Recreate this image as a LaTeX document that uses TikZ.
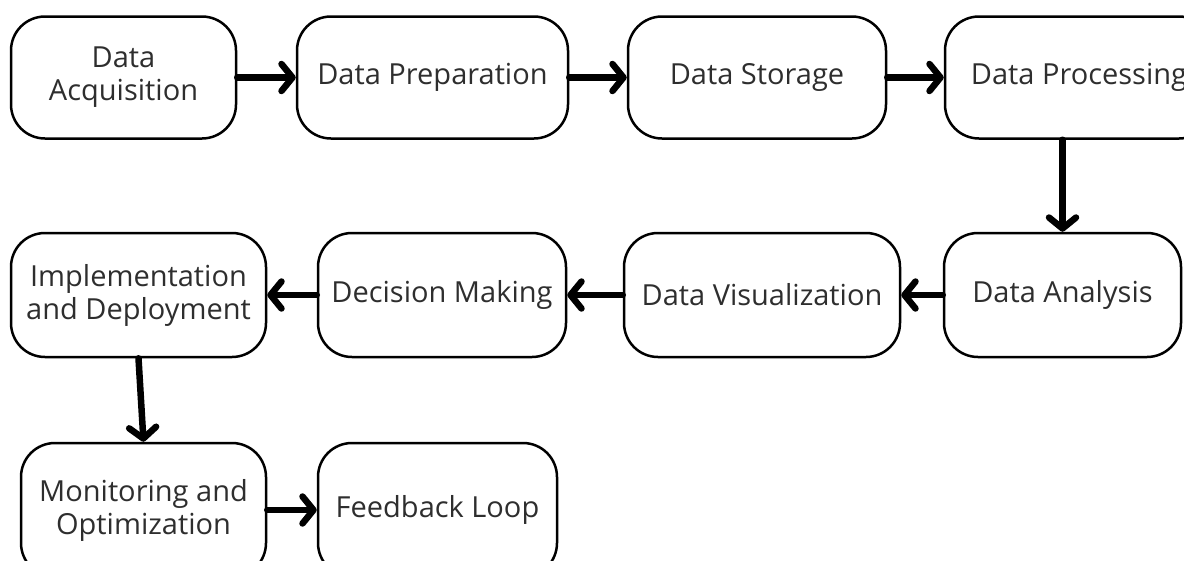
\documentclass[tikz,border=0pt]{standalone}
\usepackage{fontspec}
\setmainfont{Open Sans}
\usetikzlibrary{positioning,arrows.meta}

\tikzset{
  stage/.style={draw, line width=2.5pt, rounded corners=34pt, minimum height=122pt,
    align=center, inner sep=0pt, text=black!82, font=\fontsize{29}{33}\selectfont},
  flow/.style={line width=6.5pt, line cap=round, -{Straight Barb[length=11pt,width=27pt,round]}},
}

\begin{document}
\begin{tikzpicture}[x=1pt,y=-1pt]
\useasboundingbox (0,0) rectangle (1184,560);

          % first row
          \node[stage, minimum width=225pt] (acq) at (123.5,77.5) {Data\\Acquisition};
          \node[stage, minimum width=271pt] (prep) [right=58.5pt of acq] {Data Preparation};
          \node[stage, minimum width=258pt] (stor) [right=57.5pt of prep] {Data Storage};
          \node[stage, minimum width=268pt] (proc) [right=56.5pt of stor] {Data Processing};

          % second row
          \node[stage, minimum width=237pt, minimum height=124pt] (anal) at (1062.5,295) {Data Analysis};
          \node[stage, minimum width=276pt, minimum height=124pt] (vis) [left=41.5pt of anal] {Data Visualization};
          \node[stage, minimum width=248pt, minimum height=124pt] (dec) [left=55.5pt of vis] {Decision Making};
          \node[stage, minimum width=255pt, minimum height=124pt] (impl) [left=49.5pt of dec] {Implementation\\and Deployment};

          % third row
          \node[stage, minimum width=245pt, minimum height=134pt] (mon) at (143.5,510) {Monitoring and\\Optimization};
          \node[stage, minimum width=239pt, minimum height=134pt] (feed) [right=49.5pt of mon] {Feedback Loop};

		  \draw[flow] (acq) -- (prep);
		  \draw[flow] (prep) -- (stor);
		  \draw[flow] (stor) -- (proc);
		  \draw[flow] (anal.north |- proc.south) -- (anal.north);
		  \draw[flow] (anal) -- (vis);
		  \draw[flow] (vis) -- (dec);
		  \draw[flow] (dec) -- (impl);
		  \draw[flow] (impl.south) -- (mon.north);
		  \draw[flow] (mon) -- (feed);

\end{tikzpicture}
\end{document}
